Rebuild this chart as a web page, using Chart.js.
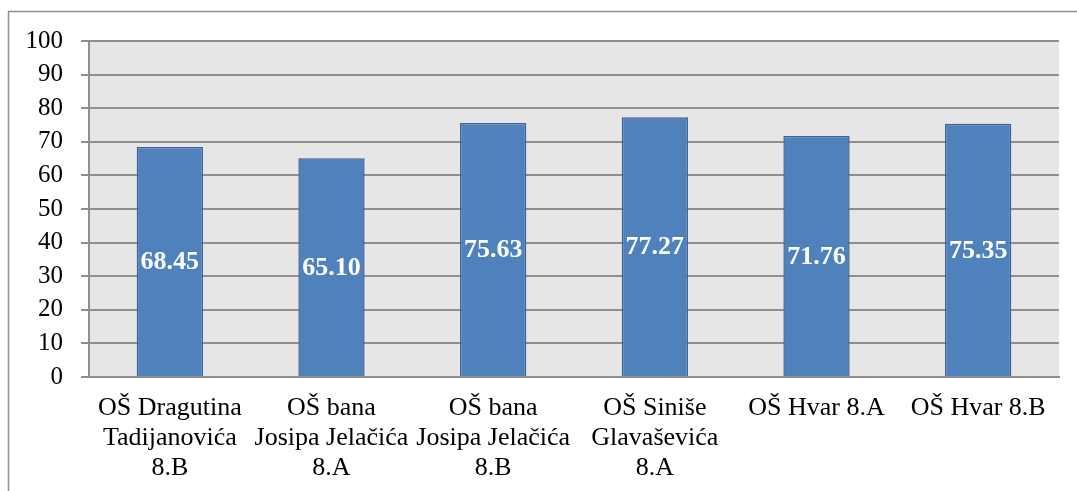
<!DOCTYPE html>
<html>
<head>
<meta charset="utf-8">
<script src="https://cdn.jsdelivr.net/npm/chart.js@4"></script>
<style>
  html, body { margin: 0; padding: 0; background: #fff; }
  #wrap { position: relative; width: 1077px; height: 491px; }
</style>
</head>
<body>
<div id="wrap"><canvas id="barChart" width="1077" height="491"></canvas></div>
<script>
// chart data
const schools = [
  ["OŠ Dragutina", "Tadijanovića", "8.B"],
  ["OŠ bana", "Josipa Jelačića", "8.A"],
  ["OŠ bana", "Josipa Jelačića", "8.B"],
  ["OŠ Siniše", "Glavaševića", "8.A"],
  "OŠ Hvar 8.A",
  "OŠ Hvar 8.B"
];
const scores = [68.45, 65.10, 75.63, 77.27, 71.76, 75.35];
const yTicks = [0, 10, 20, 30, 40, 50, 60, 70, 80, 90, 100];

const serif = "'Liberation Serif', 'Times New Roman', serif";

// gray plot background + outer frame
const backdrop = {
  id: "backdrop",
  beforeDraw(chart) {
    const { ctx, chartArea } = chart;
    ctx.save();
    ctx.fillStyle = "#ffffff";
    ctx.fillRect(0, 0, chart.width, chart.height);
    ctx.strokeStyle = "#8f8f8f";
    ctx.lineWidth = 1.5;
    ctx.beginPath();
    ctx.moveTo(8.5, chart.height);
    ctx.lineTo(8.5, 11.5);
    ctx.lineTo(chart.width, 11.5);
    ctx.stroke();
    ctx.fillStyle = "#e6e6e6";
    ctx.fillRect(chartArea.left, chartArea.top, chartArea.right - chartArea.left, chartArea.bottom - chartArea.top);
    ctx.restore();
  }
};

// value labels in the middle of each bar
const valueLabels = {
  id: "valueLabels",
  afterDatasetsDraw(chart) {
    const { ctx } = chart;
    const meta = chart.getDatasetMeta(0);
    ctx.save();
    ctx.fillStyle = "#ffffff";
    ctx.font = "bold 26px " + serif;
    ctx.textAlign = "center";
    ctx.textBaseline = "middle";
    meta.data.forEach((bar, i) => {
      const mid = (bar.y + bar.base) / 2;
      ctx.fillText(scores[i].toFixed(2), bar.x, mid + 1);
    });
    ctx.restore();
  }
};

new Chart(document.getElementById("barChart"), {
  type: "bar",
  data: {
    labels: schools,
    datasets: [{
      data: scores,
      backgroundColor: "#4f81bd",
      borderColor: "#3c6494",
      borderWidth: 1.5,
      barPercentage: 0.41,
      categoryPercentage: 1
    }]
  },
  options: {
    responsive: false,
    animation: false,
    layout: { padding: { top: 41, right: 18, left: 0, bottom: 0 } },
    plugins: {
      legend: { display: false },
      tooltip: { enabled: false }
    },
    scales: {
      x: {
        grid: { display: false, drawTicks: false },
        border: { display: true, color: "#8f8f8f", width: 2 },
        ticks: {
          color: "#000",
          font: { family: serif, size: 26, lineHeight: 1.15 },
          padding: 16,
          maxRotation: 0,
          autoSkip: false
        },
        afterFit(scale) { scale.height = 114; }
      },
      y: {
        min: 0,
        max: 100,
        afterBuildTicks(scale) { scale.ticks = yTicks.map(v => ({ value: v })); },
        grid: { color: "#8f8f8f", lineWidth: 2, tickLength: 8, drawTicks: true },
        border: { display: true, color: "#8f8f8f", width: 2 },
        ticks: {
          color: "#000",
          font: { family: serif, size: 25 },
          padding: 18
        },
        afterFit(scale) { scale.width = 89; }
      }
    }
  },
  plugins: [backdrop, valueLabels]
});
</script>
</body>
</html>
